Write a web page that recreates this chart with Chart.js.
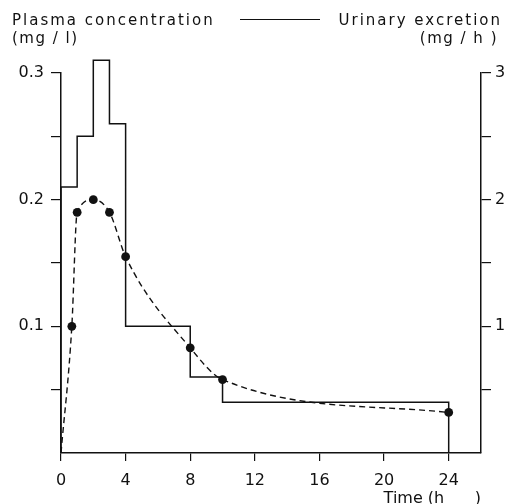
<!DOCTYPE html>
<html>
<head>
<meta charset="utf-8">
<script src="https://cdn.jsdelivr.net/npm/chart.js@4.4.0/dist/chart.umd.min.js"></script>
<style>
	html, body { margin: 0; padding: 0; background: #fff; }
	#wrap { position: relative; width: 511px; height: 504px; }
	#wrap canvas { position: absolute; left: 0; top: 0; }
	.lbl {
		position: absolute;
		font-family: 'DejaVu Sans', sans-serif;
		font-size: 15px;
		color: #111;
		letter-spacing: 2px;
		white-space: nowrap;
	}
	#key { position: absolute; left: 240px; top: 19px; width: 80px; border-top: 1.5px solid #111; }
</style>
</head>
<body>
<div id="wrap">
	<canvas id="chart" width="511" height="504"></canvas>
	<div class="lbl" style="left:12px;top:11px">Plasma concentration</div>
	<div id="key"></div>
	<div class="lbl" style="right:9px;top:11px">Urinary excretion</div>
	<div class="lbl" style="left:12px;top:29px;letter-spacing:1.5px">(mg / l)</div>
	<div class="lbl" style="right:13px;top:29px;letter-spacing:1.5px">(mg / h )</div>
</div>
<script>
/* global Chart */

// Plasma concentration (mg/l) at sampling times (h).
var sampleTimes = [0, 0.67, 1, 2, 3, 4, 8, 10, 24];
var plasmaConc  = [0, 0.1, 0.19, 0.2, 0.19, 0.155, 0.083, 0.058, 0.032];

// Urinary excretion rate (mg/h) over collection intervals.
var intervalEdges = [0, 1, 2, 3, 4, 8, 10, 24];
var excretionRate = [2.1, 2.5, 3.1, 2.6, 1.0, 0.6, 0.4];

// Axis ticks.
var xTicks      = [0, 4, 8, 12, 16, 20, 24];
var leftTicks   = [0.05, 0.1, 0.15, 0.2, 0.25, 0.3];
var leftLabels  = ['', '0.1', '', '0.2', '', '0.3'];
var rightTicks  = [0.5, 1, 1.5, 2, 2.5, 3];
var rightLabels = ['', '1', '', '2', '', '3'];

var INK = '#111';
var FONT = { family: "'DejaVu Sans', sans-serif", size: 16 };

(function () {
	'use strict';

	var plasmaPoints = sampleTimes.map(function (t, i) {
		return { x: t, y: plasmaConc[i] };
	});

	// Step outline: rise at the first edge, drop back at the last.
	var stepPoints = [{ x: intervalEdges[0], y: 0 }];
	excretionRate.forEach(function (r, i) {
		stepPoints.push({ x: intervalEdges[i], y: r });
	});
	var lastEdge = intervalEdges[intervalEdges.length - 1];
	stepPoints.push({ x: lastEdge, y: excretionRate[excretionRate.length - 1] });
	stepPoints.push({ x: lastEdge, y: 0 });

	function fixedTicks(values) {
		return function (scale) {
			scale.ticks = values.map(function (v) { return { value: v }; });
		};
	}

	function labelFrom(values, labels) {
		return function (val) {
			for (var i = 0; i < values.length; i++) {
				if (Math.abs(values[i] - val) < 1e-9) {
					return labels[i];
				}
			}
			return '';
		};
	}

	var axisLine = { display: true, color: INK, width: 1.5 };

	new Chart(document.getElementById('chart'), {
		type: 'line',
		data: {
			datasets: [
				{
					label: 'Plasma concentration',
					data: plasmaPoints,
					yAxisID: 'y',
					borderColor: INK,
					borderWidth: 1.4,
					borderDash: [6, 4],
					cubicInterpolationMode: 'monotone',
					pointRadius: sampleTimes.map(function (t) { return t === 0 ? 0 : 4.4; }),
					pointBackgroundColor: INK,
					pointBorderWidth: 0,
					fill: false,
				},
				{
					label: 'Urinary excretion',
					data: stepPoints,
					yAxisID: 'y2',
					stepped: true,
					borderColor: INK,
					borderWidth: 1.5,
					pointRadius: 0,
					fill: false,
					clip: false,
				},
			],
		},
		options: {
			responsive: false,
			animation: false,
			layout: { padding: { top: 73, left: 0, right: 0, bottom: 0 } },
			plugins: {
				legend: { display: false },
				tooltip: { enabled: false },
			},
			scales: {
				x: {
					type: 'linear',
					min: 0,
					max: 26,
					afterBuildTicks: fixedTicks(xTicks),
					afterFit: function (s) { s.height = 51; },
					border: axisLine,
					grid: { drawOnChartArea: false, drawTicks: true, tickLength: 8, color: INK, lineWidth: 1.2 },
					ticks: { color: INK, font: FONT, padding: 10, maxRotation: 0, autoSkip: false },
					title: {
						display: true,
						text: 'Time (h      )',
						align: 'end',
						color: INK,
						font: FONT,
						padding: { top: 0, bottom: -4 },
					},
				},
				y: {
					position: 'left',
					min: 0,
					max: 0.3,
					afterBuildTicks: fixedTicks(leftTicks),
					afterFit: function (s) { s.width = 61; },
					border: axisLine,
					grid: { drawOnChartArea: false, drawTicks: true, tickLength: 10, color: INK, lineWidth: 1.2 },
					ticks: { color: INK, font: FONT, padding: 7, autoSkip: false, callback: labelFrom(leftTicks, leftLabels) },
				},
				y2: {
					position: 'right',
					min: 0,
					max: 3,
					afterBuildTicks: fixedTicks(rightTicks),
					afterFit: function (s) { s.width = 30; },
					border: axisLine,
					grid: { drawOnChartArea: false, drawTicks: true, tickLength: 10, color: INK, lineWidth: 1.2 },
					ticks: { color: INK, font: FONT, padding: 4, autoSkip: false, callback: labelFrom(rightTicks, rightLabels) },
				},
			},
		},
	});
}());
</script>
</body>
</html>
